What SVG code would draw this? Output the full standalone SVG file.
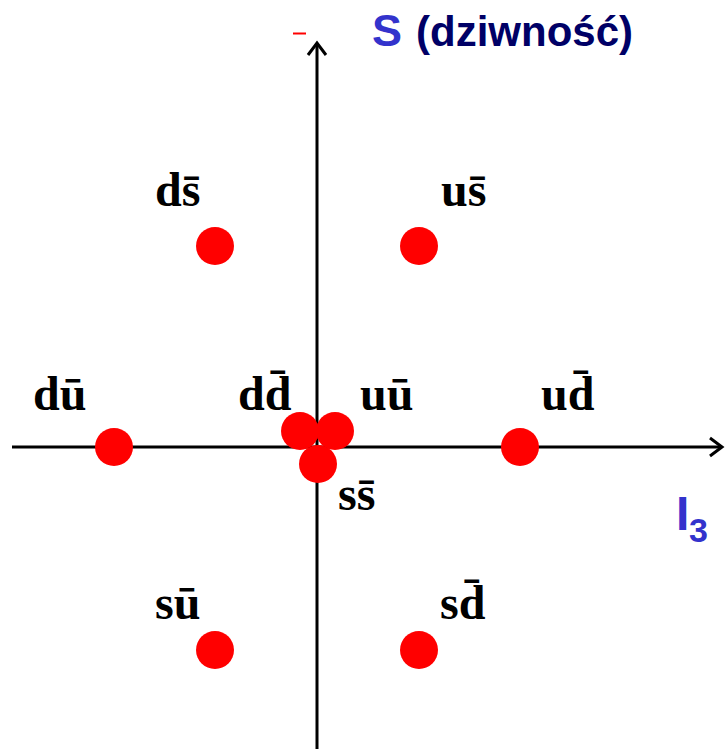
<svg xmlns="http://www.w3.org/2000/svg" width="726" height="749" viewBox="0 0 726 749">
<style>
.lbl{font-family:"Liberation Serif","Times New Roman",serif;font-weight:bold;font-size:48px;fill:#000}
.dot{fill:#ff0000}
.axis{stroke:#000;stroke-width:3;fill:none}
.ttl{font-family:"Liberation Sans",Arial,sans-serif;font-weight:bold}
</style>
<rect width="726" height="749" fill="#fff"/>
<g id="connectors">
<line class="axis" x1="317" y1="749" x2="317" y2="44"/>
<polyline class="axis" points="308,55 317,43 326,55"/>
<line class="axis" x1="12" y1="447" x2="722" y2="447"/>
<polyline class="axis" points="710,438 722,447 710,456"/>
</g>
<line x1="293" y1="33.5" x2="306" y2="33.5" stroke="#ff0000" stroke-width="2"/>
<g id="title-S"><text class="ttl" x="372" y="46" font-size="45" fill="#3333cc">S</text><text class="ttl" x="416" y="46" font-size="42" fill="#000066">(dziwność)</text></g>
<g id="title-I3"><text class="ttl" x="676" y="530" font-size="48" fill="#3333cc">I</text><text class="ttl" x="689" y="542" font-size="34" fill="#3333cc">3</text></g>
<g id="n-ds"><circle class="dot" cx="215" cy="246" r="19"/><text class="lbl" x="155" y="206">ds̄</text></g>
<g id="n-us"><circle class="dot" cx="419" cy="246" r="19"/><text class="lbl" x="441" y="206">us̄</text></g>
<g id="n-du"><circle class="dot" cx="114" cy="447" r="19"/><text class="lbl" x="33" y="410">dū</text></g>
<g id="n-ud"><circle class="dot" cx="520" cy="447" r="19"/><text class="lbl" x="541" y="410">ud̄</text></g>
<g id="n-dd"><circle class="dot" cx="300" cy="431" r="19"/><text class="lbl" x="238" y="410">dd̄</text></g>
<g id="n-uu"><circle class="dot" cx="335" cy="431" r="19"/><text class="lbl" x="360" y="410">uū</text></g>
<g id="n-ss"><circle class="dot" cx="318" cy="464" r="19"/><text class="lbl" x="338" y="510">ss̄</text></g>
<g id="n-su"><circle class="dot" cx="215" cy="650" r="19"/><text class="lbl" x="155" y="619">sū</text></g>
<g id="n-sd"><circle class="dot" cx="419" cy="650" r="19"/><text class="lbl" x="440" y="619">sd̄</text></g>
</svg>
